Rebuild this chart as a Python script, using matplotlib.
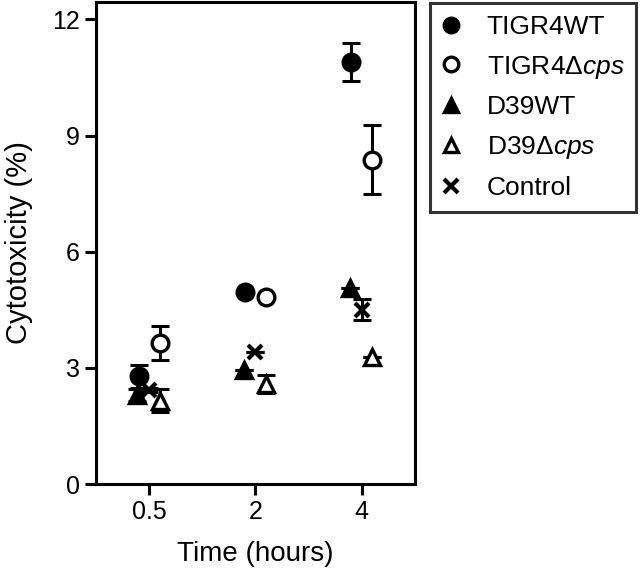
import matplotlib
matplotlib.use('Agg')
import matplotlib.pyplot as plt

plt.rcParams['font.family'] = ['Liberation Sans', 'DejaVu Sans']
plt.rcParams['mathtext.fontset'] = 'custom'
plt.rcParams['mathtext.it'] = 'Liberation Sans:italic'
plt.rcParams['mathtext.rm'] = 'Liberation Sans'

# time points (categorical)
times = ['0.5', '2', '4']

# mean cytotoxicity (%) and error per strain
series = ['TIGR4WT', 'TIGR4\u0394$\\mathit{cps}$', 'D39WT', 'D39\u0394$\\mathit{cps}$', 'Control']
tigr4_wt = [2.78, 4.97, 10.9]
tigr4_wt_err = [0.29, 0.0, 0.5]
tigr4_cps = [3.63, 4.84, 8.38]
tigr4_cps_err = [0.44, 0.0, 0.9]
d39_wt = [2.3, 2.95, 5.06]
d39_wt_err = [0.15, 0.0, 0.0]
d39_cps = [2.15, 2.59, 3.28]
d39_cps_err = [0.3, 0.23, 0.0]
control = [2.43, 3.4, 4.5]
control_err = [0.05, 0.0, 0.27]

values = [tigr4_wt, tigr4_cps, d39_wt, d39_cps, control]
errors = [tigr4_wt_err, tigr4_cps_err, d39_wt_err, d39_cps_err, control_err]
offsets = [-0.1, 0.1, -0.11, 0.1, 0.0]
markers = ['o', 'o', '^', '^', 'x']
faces = ['black', 'white', 'black', 'white', 'black']

fig = plt.figure(figsize=(6.42, 5.7), dpi=100)
ax = fig.add_axes([96 / 642, 1 - 484 / 570, 319 / 642, 482 / 570])

for name, v, e, off, m, fc in zip(series, values, errors, offsets, markers, faces):
    xs = [i + 1 + off for i in range(len(times))]
    ax.errorbar(xs, v, yerr=e, fmt='none', ecolor='black', elinewidth=2.2,
                capsize=6.5, capthick=2.2, zorder=2)
    if m == 'x':
        ax.plot(xs, v, linestyle='none', marker=m, markersize=10, color='black',
                markeredgewidth=3, label=name, zorder=3)
    else:
        ax.plot(xs, v, linestyle='none', marker=m, markersize=12,
                markerfacecolor=fc, markeredgecolor='black',
                markeredgewidth=2.4, label=name, zorder=3)

ax.set_xlim(0.5, 3.5)
ax.set_ylim(0, 12.45)
ax.set_xticks([1, 2, 3])
ax.set_xticklabels(times)
ax.set_yticks([0, 3, 6, 9, 12])
ax.tick_params(axis='both', length=8, width=2.2, labelsize=18, direction='out')
for s in ax.spines.values():
    s.set_linewidth(2.2)

ax.set_xlabel('Time (hours)', fontsize=20, labelpad=12)
ax.set_ylabel('Cytotoxicity (%)', fontsize=21, labelpad=14)

leg = fig.legend(loc='upper left', bbox_to_anchor=(430 / 642, 1 - 3 / 570),
                 fontsize=19, frameon=True, fancybox=False, borderaxespad=0,
                 handletextpad=1.0, handlelength=0.7,
                 labelspacing=0.56, borderpad=0.45, numpoints=1)
leg.get_frame().set_edgecolor('black')
leg.get_frame().set_linewidth(2.2)
for h in leg.legend_handles:
    h.set_markersize(10.5)

plt.savefig('out.png', dpi=100)
